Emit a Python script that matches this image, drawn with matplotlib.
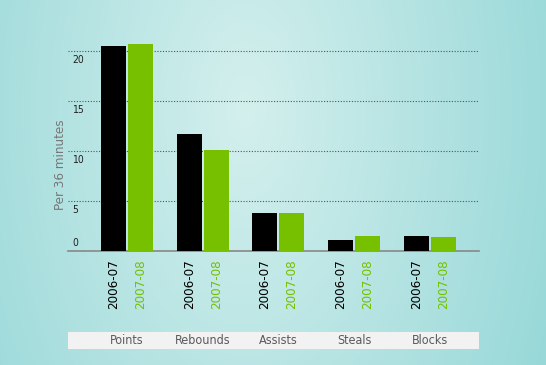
import numpy as np
import matplotlib.pyplot as plt

# data
categories = ["Points", "Rebounds", "Assists", "Steals", "Blocks"]
seasons = ["2006-07", "2007-08"]
vals_0607 = [20.5, 11.7, 3.85, 1.1, 1.5]
vals_0708 = [20.7, 10.1, 3.85, 1.5, 1.4]
yticks = [0, 5, 10, 15, 20]

plt.rcParams['font.family'] = ['DejaVu Sans']
plt.rcParams['font.stretch'] = 'condensed'

BLACK = "#000000"
GREEN = "#76c000"

fig = plt.figure(figsize=(5.46, 3.65), dpi=100)

# background gradient
bg = fig.add_axes([0, 0, 1, 1], zorder=-10)
xx = np.linspace(0, 1, 300)
yy = np.linspace(0, 1, 200)
X, Y = np.meshgrid(xx, yy)
d = np.sqrt(((X - 0.45) / 0.6) ** 2 + ((Y - 0.3) / 1.6) ** 2)
t = np.clip(d, 0, 1)
c0 = np.array([0.83, 0.94, 0.93])
c1 = np.array([0.60, 0.85, 0.85])
img = c0[None, None, :] * (1 - t[..., None]) + c1[None, None, :] * t[..., None]
bg.imshow(img, aspect='auto', extent=[0, 1, 0, 1], origin='upper')
bg.set_axis_off()

ax = fig.add_axes([68/546, 1-251/365, (479-68)/546, (251-30)/365])
ax.patch.set_alpha(0)

x = np.arange(len(categories))
w = 0.33
off = 0.178
ax.bar(x - off, vals_0607, w, color=BLACK, zorder=3)
ax.bar(x + off, vals_0708, w, color=GREEN, zorder=3)

ax.set_xlim(-0.776, 4.645)
ax.set_ylim(0, 22.1)

for v in yticks[1:]:
    ax.axhline(v, color="#555555", lw=0.8, ls=(0, (1, 1.5)), zorder=1)
    ax.text(0.01, v - 0.4, str(v), transform=ax.get_yaxis_transform(),
            ha='left', va='top', fontsize=7.5, color="#222222")
ax.text(0.01, 0.3, "0", transform=ax.get_yaxis_transform(),
        ha='left', va='bottom', fontsize=7.5, color="#222222")

for s in ['top', 'right', 'left']:
    ax.spines[s].set_visible(False)
ax.spines['bottom'].set_color("#888888")
ax.spines['bottom'].set_linewidth(1.2)
ax.set_yticks([])

pos = list(x - off) + list(x + off)
labs = [seasons[0]] * 5 + [seasons[1]] * 5
ax.set_xticks(pos)
ax.set_xticklabels(labs, rotation=90, fontsize=9.5)
for i, tl in enumerate(ax.get_xticklabels()):
    tl.set_color(BLACK if i < 5 else GREEN)
ax.tick_params(axis='x', length=0, pad=6)

fig.text(60/546, 1-165/365, "Per 36 minutes", rotation=90, ha='center', va='center',
         fontsize=9.5, color="#777777")

# category band
band = fig.add_axes([68/546, 1-349/365, (479-68)/546, 17/365])
band.set_facecolor("#f2f2f2")
band.set_xlim(-0.776, 4.645)
band.set_ylim(0, 1)
band.set_xticks([]); band.set_yticks([])
for s in band.spines.values():
    s.set_visible(False)
for i, c in enumerate(categories):
    band.text(x[i], 0.5, c, ha='center', va='center', fontsize=9, color="#5a5a5a")

fig.savefig("out.png", dpi=100)
